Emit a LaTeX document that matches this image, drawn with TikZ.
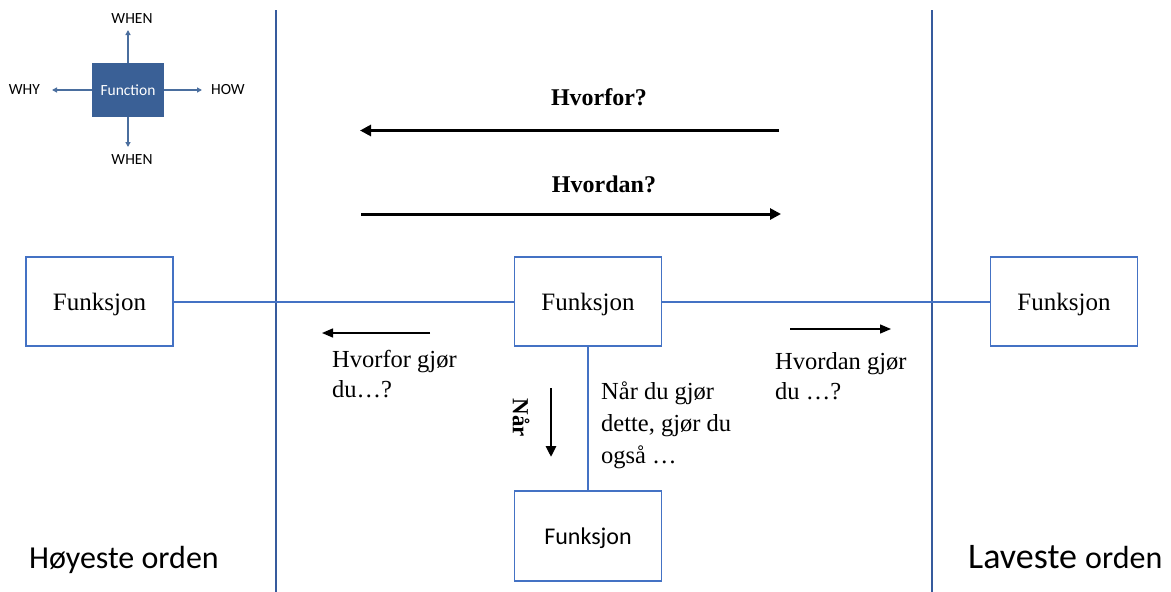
\documentclass[tikz,border=0pt]{standalone}
\usepackage{fontspec}
\setmainfont{Liberation Serif}
\newfontfamily\calfont{Carlito}
\usetikzlibrary{arrows.meta}
\definecolor{lineblue}{HTML}{4472C4}
\definecolor{iconblue}{HTML}{3A6096}
\definecolor{iconarrow}{HTML}{4A6E9E}
\tikzset{
  fbox/.style={draw=lineblue, line width=1.8pt, minimum width=147pt, minimum height=89pt,
    inner sep=0pt, text depth=0pt, font=\fontsize{25}{28}\selectfont},
  blueline/.style={draw=lineblue, line width=2pt},
  divider/.style={draw=lineblue!80!black, line width=1.8pt},
  bigarrow/.style={line width=3pt, -{Triangle[length=11pt,width=11pt]}},
  smallarrow/.style={line width=1.4pt, -{Triangle[length=11pt,width=9pt]}},
  iconarr/.style={draw=iconarrow, line width=1.4pt, -{Triangle[length=5pt,width=5pt]}},
  iconlbl/.style={font=\calfont\fontsize{15.5}{18}\selectfont, inner sep=0pt},
  note/.style={font=\fontsize{24.5}{30}\selectfont, align=left, inner sep=0pt, anchor=north west},
}
\begin{document}
\begin{tikzpicture}[x=1pt, y=-1pt]
\useasboundingbox (0,0) rectangle (1171,592);

% column dividers
\draw[divider] (276,10) -- (276,592);
\draw[divider] (932,10) -- (932,592);

% legend in the upper left corner
\node[fill=iconblue, minimum width=72pt, minimum height=54pt, inner sep=0pt,
      text=white, font=\calfont\fontsize{15.5}{18}\selectfont] (fn) at (128,90) {Function};
\coordinate (up) at (128,30);
\coordinate (dn) at (128,147);
\coordinate (lf) at (52,90);
\coordinate (rt) at (202,90);
\draw[iconarr] (fn.north) -- (up);
\draw[iconarr] (fn.south) -- (dn);
\draw[iconarr] (fn.west) -- (lf);
\draw[iconarr] (fn.east) -- (rt);
\node[iconlbl] (wtop) at (132,19) {WHEN};
\node[iconlbl] (wbot) at (132,160) {WHEN};
\node[iconlbl, anchor=east] (why) at (40,90) {WHY};
\node[iconlbl, anchor=west] (how) at (211,90) {HOW};

% function boxes
\node[fbox] (L) at (99.5,301.5) {Funksjon};
\node[fbox] (C) at (588,301.5) {Funksjon};
\node[fbox] (R) at (1064,301.5) {Funksjon};
\node[fbox, font=\calfont\fontsize{24}{28}\selectfont, minimum height=90pt] (B) at (588,536) {Funksjon};

\draw[blueline] (L.east) -- (C.west);
\draw[blueline] (C.east) -- (R.west);
\draw[blueline] (C.south) -- (B.north);

% why / how arrows
\coordinate (whyS) at (779,130.5);
\coordinate (whyE) at (360,130.5);
\coordinate (howS) at (361,214);
\coordinate (howE) at (781,214);
\draw[bigarrow] (whyS) -- (whyE);
\draw[bigarrow] (howS) -- (howE);
\node[font=\bfseries\fontsize{24}{28}\selectfont, anchor=base, inner sep=0pt] (tWhy) at (599,105) {Hvorfor?};
\node[font=\bfseries\fontsize{24}{28}\selectfont, anchor=base, inner sep=0pt] (tHow) at (604,192) {Hvordan?};

% small arrows with questions
\coordinate (sWs) at (430,333);
\coordinate (sWe) at (322,333);
\draw[smallarrow] (sWs) -- (sWe);
\node[note] (qWhy) at (332,350) {Hvorfor gjør\\du…?};

\coordinate (sHs) at (790,329);
\coordinate (sHe) at (891,329);
\draw[smallarrow] (sHs) -- (sHe);
\node[note] (qHow) at (775,352) {Hvordan gjør\\du …?};

% when arrow
\coordinate (nS) at (551,388);
\coordinate (nE) at (551,457);
\draw[line width=2.8pt, -{Triangle[length=11pt,width=10pt]}] (nS) -- (nE);
\node[font=\bfseries\fontsize{23}{26}\selectfont, rotate=-90, inner sep=0pt] (tWhen) at (521,418) {Når};
\node[note, font=\fontsize{24.5}{32}\selectfont] (qWhen) at (601,382) {Når du gjør\\dette, gjør du\\også …};

% order labels
\node[font=\calfont\fontsize{32}{36}\selectfont, anchor=base west, inner sep=0pt] (hi) at (29,568) {Høyeste orden};
\node[anchor=base west, inner sep=0pt] (lo) at (968,568) {\calfont\fontsize{36}{38}\selectfont Laveste \fontsize{32}{38}\selectfont orden};
\end{tikzpicture}
\end{document}
